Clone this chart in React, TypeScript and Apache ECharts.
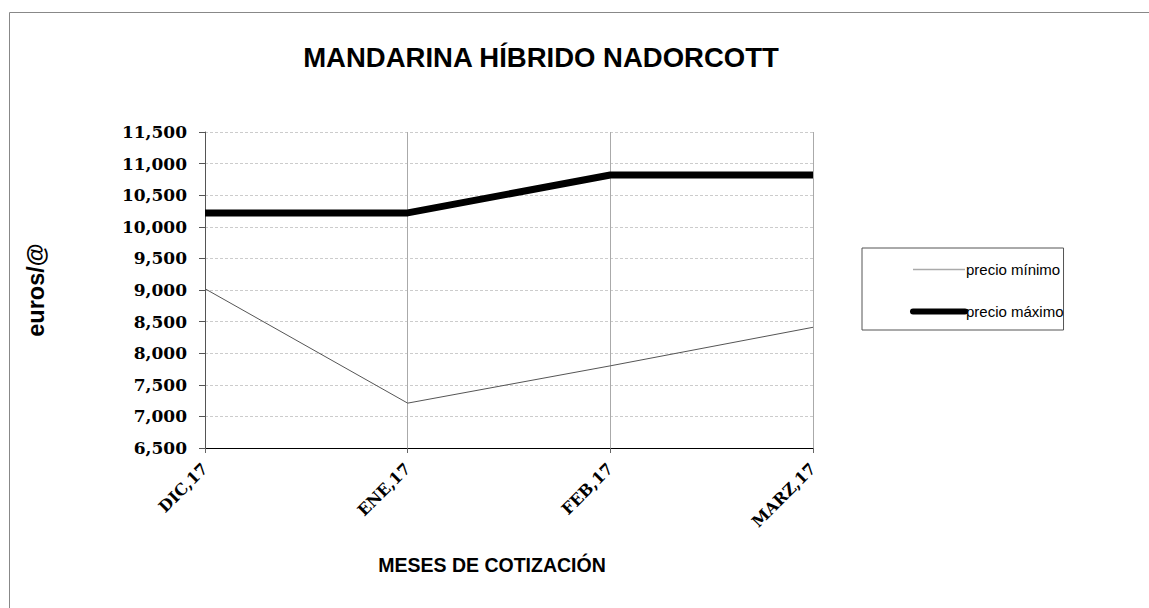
import React, { useEffect, useRef } from "react";
import * as echarts from "echarts";

const categories = ["DIC,17", "ENE,17", "FEB,17", "MARZ,17"];
const precioMinimo = [9.02, 7.21, 7.8, 8.41];
const precioMaximo = [10.22, 10.22, 10.82, 10.82];
const yMin = 6.5;
const yMax = 11.5;
const yStep = 0.5;

const fmt = (v: number) => v.toFixed(3).replace(".", ",");

export default function App() {
  const ref = useRef<HTMLDivElement>(null);
  useEffect(() => {
    document.body.style.margin = "0";
    const chart = echarts.init(ref.current!, null, { renderer: "svg" });
    chart.setOption({
      animation: false,
      backgroundColor: "#fff",
      title: {
        text: "MANDARINA HÍBRIDO NADORCOTT",
        left: 541,
        top: 38,
        textAlign: "center",
        textStyle: { fontFamily: "Liberation Sans, Arial", fontWeight: "bold", fontSize: 27.5, color: "#000" },
        padding: [5, 10, 5, 0],
      },
      graphic: [
        {
          type: "rect",
          shape: { x: 9.5, y: 12.5, width: 1160, height: 620 },
          style: { fill: "none", stroke: "#888", lineWidth: 1 },
          silent: true,
        },
      ],
      legend: {
        orient: "vertical",
        left: 862,
        top: 248,
        padding: [14, 0, 11, 48],
        itemGap: 27,
        itemWidth: 52,
        itemHeight: 8,
        borderColor: "#555",
        borderWidth: 1,
        itemStyle: { opacity: 0, borderWidth: 0 },
        textStyle: { fontFamily: "Liberation Sans, Arial", fontSize: 15, color: "#000", padding: [0, 0, 0, -4] },
        data: [
          { name: "precio mínimo", lineStyle: { color: "#aaa", width: 1.5 } },
          { name: "precio máximo", lineStyle: { color: "#000", width: 6, cap: "round" } },
        ],
      },
      grid: { left: 205, top: 132, width: 608, height: 316, containLabel: false },
      xAxis: {
        type: "category",
        data: categories,
        boundaryGap: false,
        name: "MESES DE COTIZACIÓN",
        nameLocation: "middle",
        nameGap: 107,
        nameTextStyle: {
          fontFamily: "Liberation Sans, Arial",
          fontWeight: "bold",
          fontSize: 19.5,
          color: "#000",
          padding: [0, 34, 0, 0],
        },
        axisLine: { lineStyle: { color: "#000", width: 1 } },
        axisTick: { show: true, length: 5, lineStyle: { color: "#666" } },
        axisLabel: {
          rotate: 45,
          margin: 18,
          fontFamily: "DejaVu Serif",
          fontWeight: "bold",
          fontSize: 16,
          color: "#000",
        },
        splitLine: { show: true, lineStyle: { color: "#aaa", width: 1, type: "solid" } },
      },
      yAxis: {
        type: "value",
        min: yMin,
        max: yMax,
        interval: yStep,
        name: "euros/@",
        nameLocation: "middle",
        nameGap: 157,
        nameRotate: 90,
        nameTextStyle: { fontFamily: "Liberation Sans, Arial", fontWeight: "bold", fontSize: 23.5, color: "#000" },
        axisLine: { show: true, lineStyle: { color: "#555", width: 1 } },
        axisTick: { show: true, length: 6, inside: false, lineStyle: { color: "#555" } },
        axisLabel: {
          formatter: (v: number) => fmt(v),
          margin: 18,
          fontFamily: "DejaVu Serif",
          fontWeight: "bold",
          fontSize: 17,
          color: "#000",
        },
        splitLine: { show: true, lineStyle: { color: "#ccc", width: 1, type: [3, 2] } },
      },
      series: [
        {
          name: "precio mínimo",
          type: "line",
          data: precioMinimo,
          symbol: "none",
          color: "#666",
          lineStyle: { color: "#555", width: 1 },
        },
        {
          name: "precio máximo",
          type: "line",
          data: precioMaximo,
          symbol: "none",
          color: "#000",
          lineStyle: { color: "#000", width: 7 },
        },
      ],
    });
    return () => chart.dispose();
  }, []);
  return <div ref={ref} style={{ width: 1149, height: 608 }} />;
}
